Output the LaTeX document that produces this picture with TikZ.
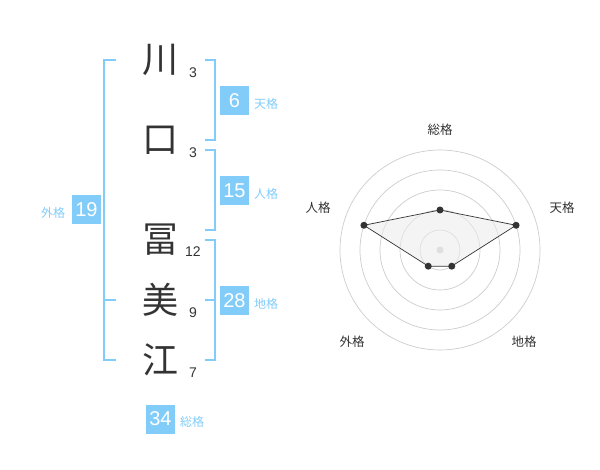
\documentclass[tikz,border=0pt]{standalone}
\usepackage{fontspec}
\usetikzlibrary{calc}
\setmainfont{Liberation Sans}
\newfontfamily\jp{Noto Sans CJK JP}
\definecolor{lblue}{RGB}{130,204,250}
\definecolor{ink}{RGB}{51,51,51}
\definecolor{ring}{RGB}{204,204,204}
\tikzset{
  kanji/.style={font=\jp\fontsize{36}{36}\selectfont, text=ink, inner sep=0pt},
  strokes/.style={font=\fontsize{14}{14}\selectfont, text=ink, inner sep=0pt},
  bracket/.style={draw=lblue, line width=2pt},
  numbox/.style={fill=lblue, text=white, minimum width=29pt, minimum height=29pt, inner sep=0pt, font=\fontsize{20}{20}\selectfont},
  kaku/.style={font=\jp\fontsize{12}{12}\selectfont, text=lblue, inner sep=0pt},
  rlabel/.style={font=\jp\fontsize{12.5}{12.5}\selectfont, text=ink, inner sep=0pt},
  rdot/.style={circle, fill=ink, inner sep=0pt, minimum size=7pt},
}
\begin{document}
\begin{tikzpicture}[x=1pt,y=-1pt]
\useasboundingbox (0,0) rectangle (600,470);
% characters
\node[kanji] (c1) at (160,60) {川};
\node[kanji] (c2) at (160,140) {口};
\node[kanji] (c3) at (160,240) {冨};
\node[kanji] (c4) at (160,300) {美};
\node[kanji] (c5) at (160,360) {江};
\node[strokes] (s1) at (193,73) {3};
\node[strokes] (s2) at (193,153) {3};
\node[strokes] (s3) at (193,252) {12};
\node[strokes] (s4) at (193,313) {9};
\node[strokes] (s5) at (193,373) {7};
% brackets
\coordinate (lt) at (116,60); \coordinate (lm) at (116,300); \coordinate (lb) at (116,360);
\draw[bracket] (lt) -- (104,60) -- (104,360) -- (lb);
\draw[bracket] (104,300) -- (lm);
\draw[bracket] (205,60) -- (215,60) -- (215,140) -- (205,140);
\draw[bracket] (205,150) -- (215,150) -- (215,230) -- (205,230);
\draw[bracket] (205,240) -- (215,240) -- (215,360) -- (205,360);
\draw[bracket] (215,300) -- (205,300);
% boxes
\node[numbox] (b6) at (234.5,100.5) {6};
\node[kaku, anchor=west] (k6) at (254,104) {天格};
\node[numbox] (b15) at (234.5,190.5) {15};
\node[kaku, anchor=west] (k15) at (254,194) {人格};
\node[numbox] (b19) at (86.5,210) {19};
\node[kaku] (k19) at (53,213) {外格};
\node[numbox] (b28) at (234.5,300.5) {28};
\node[kaku, anchor=west] (k28) at (254,304) {地格};
\node[numbox] (b34) at (160.5,419) {34};
\node[kaku, anchor=west] (k34) at (180,422) {総格};
% radar
\coordinate (rc) at (440,250);
\foreach \r in {20,40,60,80,100} \draw[ring, line width=0.7pt] (rc) circle (\r);
\fill[ring] (rc) circle (3.5);
\coordinate (p1) at ($(rc)+(-90:40)$);
\coordinate (p2) at ($(rc)+(-18:80)$);
\coordinate (p3) at ($(rc)+(54:20)$);
\coordinate (p4) at ($(rc)+(126:20)$);
\coordinate (p5) at ($(rc)+(198:80)$);
\draw[fill=gray!15, fill opacity=0.6, draw=ink, line width=0.7pt] (p1) -- (p2) -- (p3) -- (p4) -- (p5) -- cycle;
\foreach \p in {p1,p2,p3,p4,p5} \node[rdot] at (\p) {};
\node[rlabel] (l1) at (440,130) {総格};
\node[rlabel] (l2) at (562,208) {天格};
\node[rlabel] (l3) at (524,342) {地格};
\node[rlabel] (l4) at (352,342) {外格};
\node[rlabel] (l5) at (318,208) {人格};
\end{tikzpicture}
\end{document}
